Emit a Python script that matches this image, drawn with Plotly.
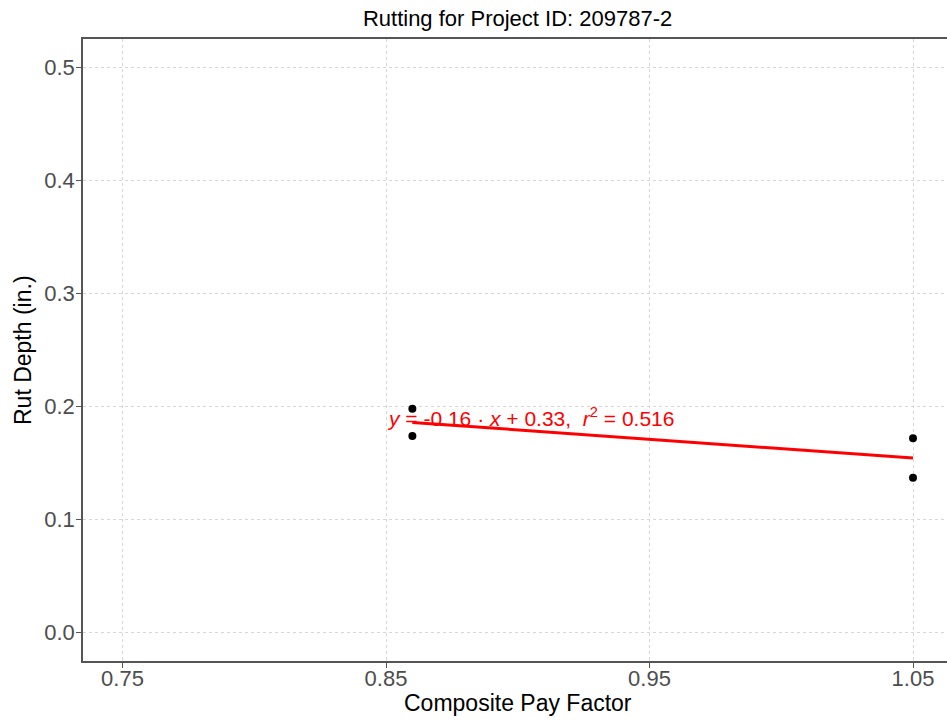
import numpy as np
import plotly.graph_objects as go

# composite pay factor vs rut depth
pay_factor = [0.86, 0.86, 1.05, 1.05]
rut_depth = [0.198, 0.174, 0.172, 0.137]

x_ticks = [0.75, 0.85, 0.95, 1.05]
y_ticks = [0.0, 0.1, 0.2, 0.3, 0.4, 0.5]

# linear fit for the trend line
slope, intercept = np.polyfit(pay_factor, rut_depth, 1)
fit_x = np.array([min(pay_factor), max(pay_factor)])
fit_y = slope * fit_x + intercept

eq_label = "<i>y</i> = -0.16 · <i>x</i> + 0.33,  <i>r</i><sup>2</sup> = 0.516"

fig = go.Figure()
fig.add_trace(go.Scatter(x=fit_x, y=fit_y, mode="lines",
                         line=dict(color="red", width=3), hoverinfo="skip"))
fig.add_trace(go.Scatter(x=pay_factor, y=rut_depth, mode="markers",
                         marker=dict(color="black", size=8)))

fig.add_annotation(x=0.905, y=0.191, text=eq_label, showarrow=False,
                   font=dict(color="red", size=21, family="Liberation Sans"))

axis_common = dict(showgrid=True, gridcolor="#d6d6d6", griddash="3px,3px", gridwidth=1,
                   zeroline=False, showline=True, linecolor="#555555", linewidth=1.5,
                   mirror=True, ticks="outside", ticklen=5, tickcolor="#555555",
                   automargin=False,
                   tickfont=dict(size=22, color="#4d4d4d", family="Liberation Sans"))

fig.update_xaxes(range=[0.735, 1.0629], tickvals=x_ticks, ticklabelstandoff=-8,
                 ticktext=[f"{v:.2f}" for v in x_ticks], **axis_common)
fig.update_yaxes(range=[-0.025, 0.525], tickvals=y_ticks, ticklabelstandoff=-3,
                 ticktext=[f"{v:.1f}" for v in y_ticks], **axis_common)

# axis titles placed like the ggplot original
fig.add_annotation(text="Composite Pay Factor", xref="paper", yref="paper",
                   x=0.503, y=0, yshift=-42, yanchor="middle", showarrow=False,
                   font=dict(size=23, color="black"))
fig.add_annotation(text="Rut Depth (in.)", xref="paper", yref="paper",
                   x=0, xshift=-60, y=0.5, textangle=-90, xanchor="center",
                   showarrow=False, font=dict(size=23, color="black"))

fig.update_layout(
    width=947, height=721,
    margin=dict(l=83, r=0, t=39, b=60),
    plot_bgcolor="white", paper_bgcolor="white",
    showlegend=False,
    font=dict(family="Liberation Sans"),
    title=dict(text="Rutting for Project ID: 209787-2", x=0.503, xref="paper",
               y=1 - 18 / 721, yanchor="middle", font=dict(size=22, color="black")),
)

fig.write_html("out.html", config={"displayModeBar": False},
               post_script="document.body.style.margin='0';")
